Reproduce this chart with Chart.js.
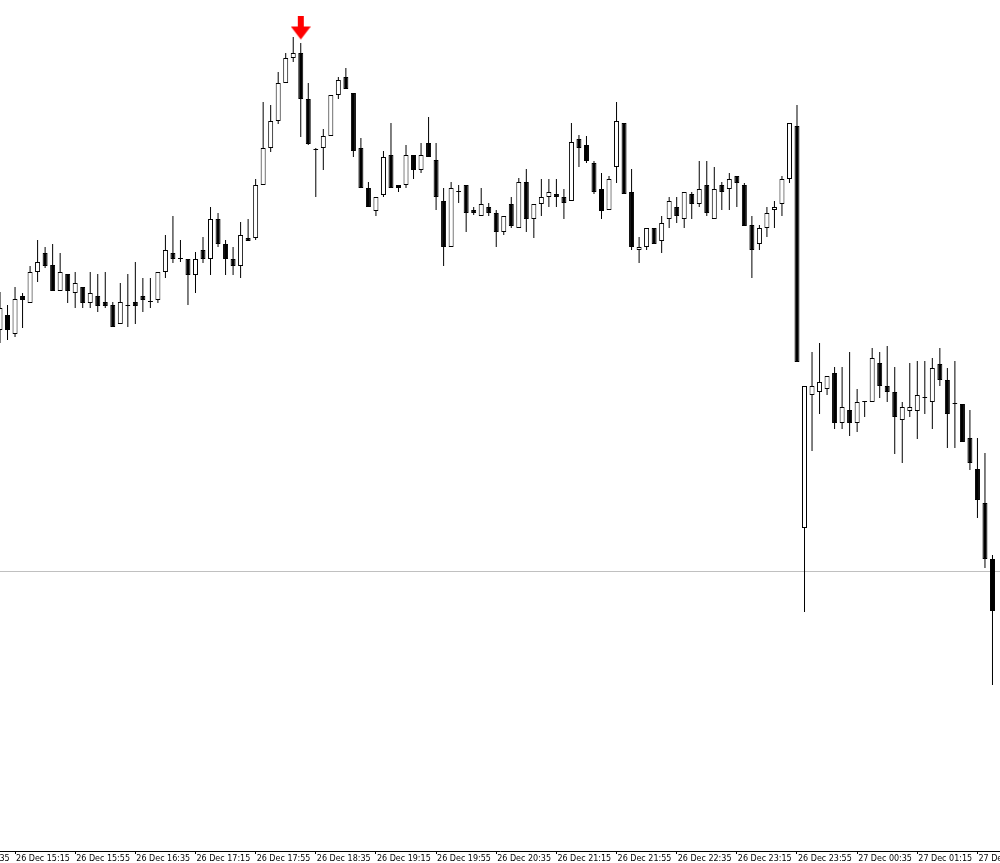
<!DOCTYPE html>
<html>
<head>
<meta charset="utf-8">
<script src="https://cdn.jsdelivr.net/npm/chart.js@4.4.0/dist/chart.umd.min.js"></script>
<style>
    html, body { margin: 0; padding: 0; background: #fff; }
    #area { width: 1000px; height: 863px; }
</style>
</head>
<body>
<div id="area"><canvas id="grafico-candles" width="1000" height="863"></canvas></div>
<script>
// velas de 5 minutos, 26 Dec 15:05 -> 27 Dec 02:05 (preco em pontos)
const abertura = [
    670, 685, 666, 704, 697, 728, 747, 735, 709, 726,
    707, 713, 697, 704, 698, 695, 676, 694, 698, 704,
    698, 700, 728, 747, 741, 741, 725, 750, 741, 781,
    756, 741, 734, 762, 762, 815, 852, 879, 917, 942,
    947, 901, 850, 852, 864, 905, 923, 907, 852, 812,
    789, 805, 845, 815, 815, 845, 830, 857, 840, 799,
    753, 808, 815, 790, 784, 793, 787, 768, 796, 772,
    818, 781, 796, 803, 806, 803, 799, 861, 855, 837,
    811, 790, 833, 877, 808, 750, 753, 772, 759, 781,
    793, 781, 806, 796, 815, 781, 815, 811, 824, 815,
    775, 756, 772, 790, 796, 821, 874, 472, 605, 608,
    611, 627, 577, 590, 577, 598, 598, 637, 614, 608,
    580, 589, 589, 602, 598, 636, 620, 596, 596, 562,
    531, 497, 441
];
const maxima = [
    708, 695, 713, 707, 734, 760, 753, 756, 747, 726,
    728, 713, 728, 726, 728, 698, 717, 726, 738, 722,
    722, 728, 765, 784, 760, 741, 748, 763, 793, 787,
    760, 753, 778, 781, 821, 898, 895, 928, 947, 963,
    957, 917, 852, 871, 905, 923, 932, 907, 862, 818,
    803, 849, 877, 815, 855, 845, 857, 883, 857, 812,
    818, 815, 815, 793, 812, 797, 790, 784, 803, 822,
    831, 796, 821, 821, 821, 811, 877, 865, 864, 839,
    827, 824, 898, 877, 831, 763, 772, 772, 784, 803,
    803, 808, 808, 839, 839, 833, 818, 827, 824, 817,
    784, 775, 793, 799, 824, 877, 895, 614, 648, 657,
    624, 633, 633, 648, 611, 598, 652, 648, 654, 633,
    598, 637, 639, 639, 642, 652, 632, 639, 596, 590,
    562, 547, 445
];
const minima = [
    657, 660, 663, 672, 697, 718, 732, 709, 709, 697,
    692, 692, 692, 688, 692, 673, 676, 673, 676, 688,
    692, 697, 722, 737, 738, 695, 707, 737, 725, 753,
    725, 725, 722, 759, 760, 815, 848, 876, 917, 938,
    863, 855, 803, 830, 864, 901, 911, 843, 812, 793,
    784, 803, 812, 808, 812, 821, 827, 843, 790, 734,
    753, 797, 768, 785, 784, 784, 753, 765, 772, 772,
    768, 762, 784, 793, 793, 781, 799, 833, 837, 806,
    781, 790, 817, 806, 750, 737, 750, 756, 747, 772,
    777, 772, 781, 793, 784, 781, 790, 790, 793, 774,
    722, 750, 763, 772, 784, 817, 638, 388, 549, 586,
    605, 571, 571, 564, 568, 583, 598, 602, 598, 546,
    537, 583, 561, 586, 571, 614, 552, 552, 558, 530,
    482, 432, 315
];
const fechamento = [
    692, 670, 701, 700, 728, 738, 734, 709, 728, 709,
    717, 697, 707, 694, 694, 673, 698, 694, 694, 700,
    698, 728, 750, 741, 741, 725, 741, 741, 781, 756,
    741, 734, 765, 759, 815, 852, 879, 917, 942, 947,
    901, 856, 850, 864, 905, 920, 911, 849, 812, 793,
    803, 843, 812, 812, 845, 830, 845, 843, 803, 753,
    812, 808, 787, 787, 796, 787, 768, 784, 774, 818,
    781, 796, 803, 808, 803, 797, 858, 852, 839, 808,
    789, 821, 879, 806, 753, 753, 772, 756, 777, 799,
    784, 808, 796, 811, 787, 811, 808, 821, 817, 774,
    750, 772, 787, 793, 821, 877, 638, 614, 614, 618,
    624, 577, 593, 577, 598, 598, 642, 614, 608, 583,
    593, 593, 605, 602, 632, 620, 586, 596, 558, 537,
    500, 441, 389
];
const rotulosTempo = [
    "26 Dec 14:35", "26 Dec 15:15", "26 Dec 15:55", "26 Dec 16:35", "26 Dec 17:15",
    "26 Dec 17:55", "26 Dec 18:35", "26 Dec 19:15", "26 Dec 19:55", "26 Dec 20:35",
    "26 Dec 21:15", "26 Dec 21:55", "26 Dec 22:35", "26 Dec 23:15", "26 Dec 23:55",
    "27 Dec 00:35", "27 Dec 01:15", "27 Dec 01:55"
];
const primeiroRotulo = -6;   // indice da vela do primeiro rotulo
const passoRotulo = 8;       // 8 velas = 40 min
const nivelLinha = 428.5;
const sinalVela = 40;
const sinalPreco = 972;

var chartCandles;


function setaVermelha() {
    const c = document.createElement("canvas");
    c.width = 20;
    c.height = 25;
    const ctx = c.getContext("2d");
    ctx.fillStyle = "#ff0000";
    ctx.fillRect(7, 0, 6, 12);
    ctx.beginPath();
    ctx.moveTo(0, 11);
    ctx.lineTo(20, 11);
    ctx.lineTo(10, 24);
    ctx.closePath();
    ctx.fill();
    return c;
}

// rotulos do eixo de tempo, alinhados a esquerda de cada marca
const rotulosEixo = {
    id: 'rotulosEixo',
    afterDraw(chart) {
        const escala = chart.scales.x;
        const ctx = chart.ctx;
        ctx.save();
        ctx.font = '8px "DejaVu Sans"';
        ctx.fillStyle = '#000000';
        ctx.textAlign = 'left';
        ctx.textBaseline = 'alphabetic';
        rotulosTempo.forEach((r, k) => {
            const px = escala.getPixelForValue(primeiroRotulo + k * passoRotulo);
            ctx.fillText(r, px + 1, 861);
        });
        ctx.restore();
    }
};

function renderizaGrafico() {
    const corpos = abertura.map((o, i) => ({ x: i, y: [o, fechamento[i]] }));
    const pavios = abertura.map((o, i) => ({ x: i, y: [minima[i], maxima[i]] }));
    const cores = abertura.map((o, i) => fechamento[i] > o ? "#ffffff" : "#000000");
    const posicoes = rotulosTempo.map((r, k) => primeiroRotulo + k * passoRotulo);

    const config = {
        type: 'bar',
        data: {
            datasets: [{
                type: 'scatter',
                data: [{ x: sinalVela, y: sinalPreco }],
                pointStyle: setaVermelha(),
                pointRadius: 10,
                order: 0
            }, {
                data: corpos,
                backgroundColor: cores,
                borderColor: '#000000',
                borderWidth: 1,
                borderSkipped: false,
                barThickness: 5,
                minBarLength: 1,
                inflateAmount: 0,
                grouped: false,
                order: 1
            }, {
                data: pavios,
                backgroundColor: '#000000',
                borderWidth: 0,
                barThickness: 1,
                inflateAmount: 0,
                grouped: false,
                order: 2
            }, {
                type: 'line',
                data: [{ x: 0, y: nivelLinha }, { x: 133, y: nivelLinha }],
                borderColor: '#c0c0c0',
                borderWidth: 1,
                pointRadius: 0,
                order: 3
            }]
        },
        options: {
            responsive: false,
            animation: false,
            layout: { padding: 0, autoPadding: false },
            plugins: {
                legend: { display: false },
                tooltip: { enabled: false }
            },
            scales: {
                x: {
                    type: 'linear',
                    offset: false,
                    min: 0,
                    max: 133,
                    afterBuildTicks: (escala) => {
                        escala.ticks = posicoes.filter(v => v >= 0).map(v => ({ value: v }));
                    },
                    afterFit: (escala) => {
                        escala.height = 12;
                    },
                    ticks: { display: false },
                    grid: {
                        offset: false,
                        drawOnChartArea: false,
                        drawTicks: true,
                        tickLength: 3,
                        color: '#000000'
                    },
                    border: { color: '#000000' }
                },
                y: {
                    display: false,
                    min: 149,
                    max: 1000
                }
            }
        },
        plugins: [rotulosEixo]
    };

    chartCandles = new Chart(document.getElementById("grafico-candles"), config);
}


document.addEventListener("DOMContentLoaded", () => {
    renderizaGrafico();
});
</script>
</body>
</html>
